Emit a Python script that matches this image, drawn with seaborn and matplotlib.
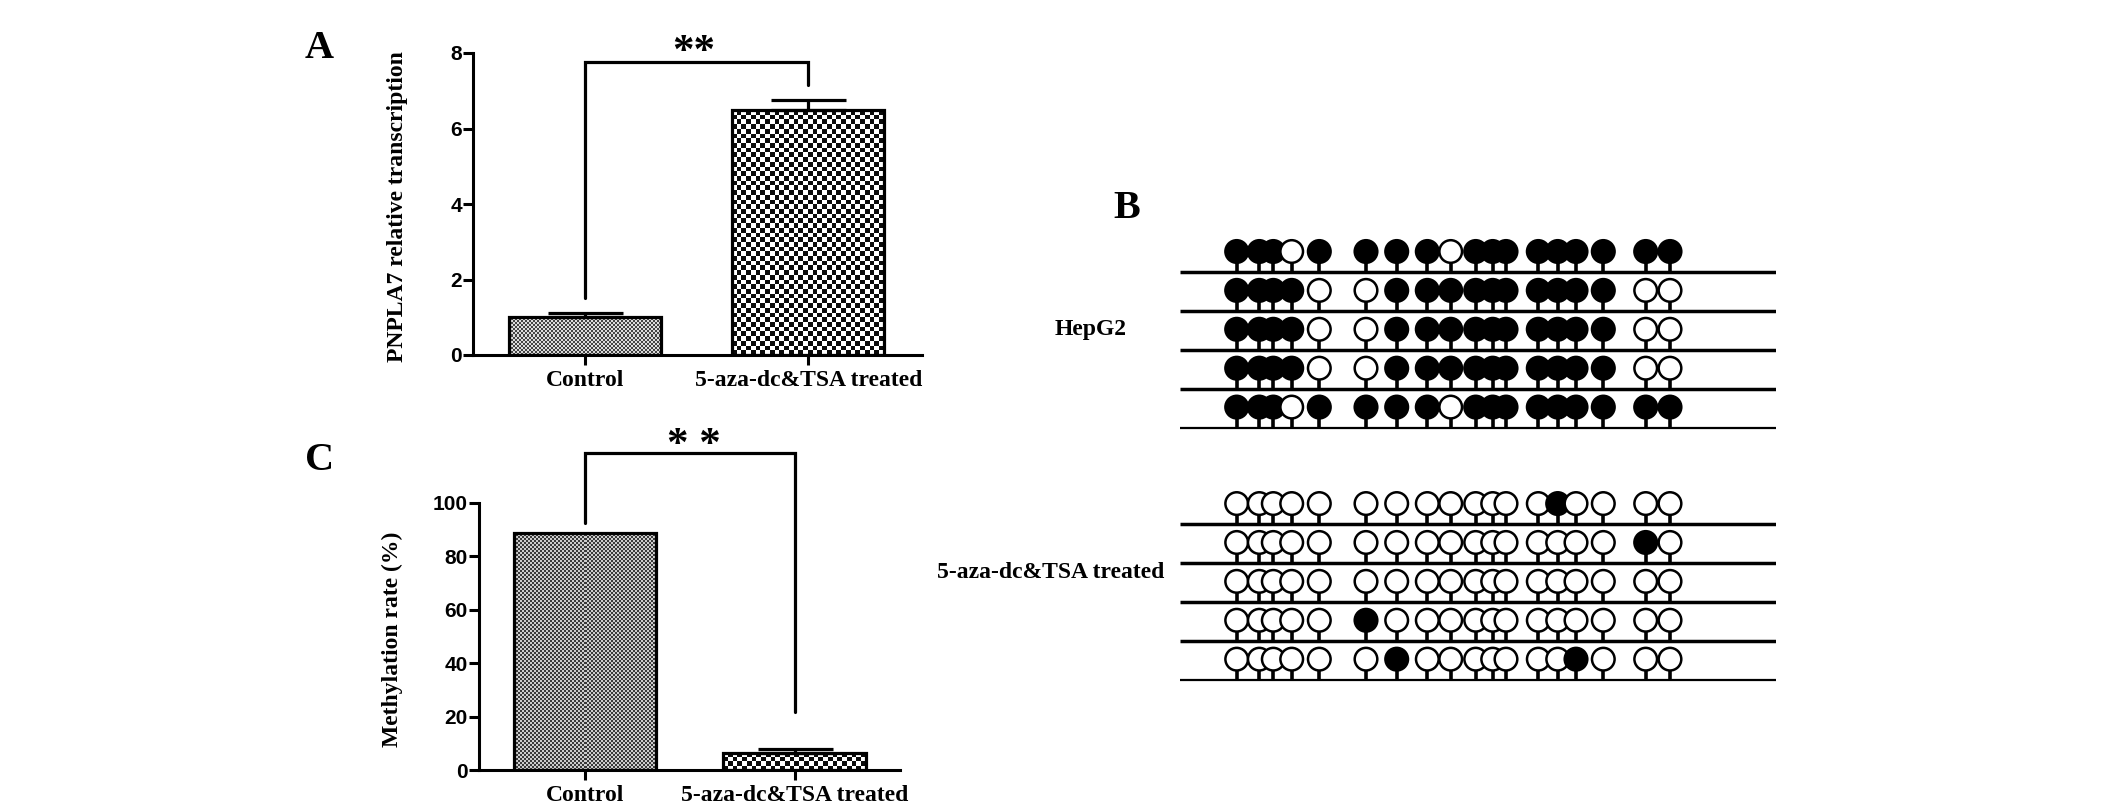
import numpy as np
import pandas as pd
import matplotlib
matplotlib.use("Agg")
import matplotlib.pyplot as plt
import seaborn as sns

# ---------------- data ----------------
groups = ["Control", "5-aza-dc&TSA treated"]
transcription = [1.01, 6.49]
transcription_err = [0.11, 0.26]
methylation = [88.8, 6.4]
methylation_err = [0.0, 1.4]

# significance brackets (left foot, top, right foot)
bracket_a = [1.51, 7.77, 7.15]
bracket_c = [92.5, 118.8, 21.8]

# CpG site positions along the sequenced region (relative units)
cpg_pos = [56.7, 79.3, 93.3, 111.7, 139.3, 186.0, 216.7, 247.3, 270.7,
           295.7, 312.7, 326.0, 358.3, 377.7, 396.0, 423.3, 465.7, 490.0]
region_len = 596
# 1 = methylated (filled), 0 = unmethylated (open)
hepg2_status = [
    [1, 1, 1, 0, 1, 1, 1, 1, 0, 1, 1, 1, 1, 1, 1, 1, 1, 1],
    [1, 1, 1, 1, 0, 0, 1, 1, 1, 1, 1, 1, 1, 1, 1, 1, 0, 0],
    [1, 1, 1, 1, 0, 0, 1, 1, 1, 1, 1, 1, 1, 1, 1, 1, 0, 0],
    [1, 1, 1, 1, 0, 0, 1, 1, 1, 1, 1, 1, 1, 1, 1, 1, 0, 0],
    [1, 1, 1, 0, 1, 1, 1, 1, 0, 1, 1, 1, 1, 1, 1, 1, 1, 1],
]
treated_status = [
    [0, 0, 0, 0, 0, 0, 0, 0, 0, 0, 0, 0, 0, 1, 0, 0, 0, 0],
    [0, 0, 0, 0, 0, 0, 0, 0, 0, 0, 0, 0, 0, 0, 0, 0, 1, 0],
    [0, 0, 0, 0, 0, 0, 0, 0, 0, 0, 0, 0, 0, 0, 0, 0, 0, 0],
    [0, 0, 0, 0, 0, 1, 0, 0, 0, 0, 0, 0, 0, 0, 0, 0, 0, 0],
    [0, 0, 0, 0, 0, 0, 1, 0, 0, 0, 0, 0, 0, 0, 1, 0, 0, 0],
]
clone_labels = ["HepG2", "5-aza-dc&TSA treated"]

# ---------------- style ----------------
sns.set_style("white")
plt.rcParams["font.family"] = ["Liberation Serif", "DejaVu Serif"]
plt.rcParams["text.color"] = "black"
plt.rcParams["axes.labelcolor"] = "black"
plt.rcParams["xtick.color"] = "black"
plt.rcParams["ytick.color"] = "black"
SERIF = "Liberation Serif"
SANS = "Liberation Sans"

W, H = 2126, 811
fig = plt.figure(figsize=(W / 100, H / 100), dpi=100)


def fx(px):
    return px / W


def fy(py):
    return 1 - py / H


def axes_px(x0, y0, x1, y1):
    return fig.add_axes([fx(x0), fy(y1), (x1 - x0) / W, (y1 - y0) / H])


def checker_fill(ax, patch, cell_px, c0, c1):
    x0, y0 = patch.get_x(), patch.get_y()
    x1, y1 = x0 + patch.get_width(), y0 + patch.get_height()
    p0 = ax.transData.transform((x0, y0))
    p1 = ax.transData.transform((x1, y1))
    wpx, hpx = abs(p1[0] - p0[0]), abs(p1[1] - p0[1])
    nx = max(1, int(round(wpx / cell_px)))
    ny = max(1, int(round(hpx / cell_px)))
    ii, jj = np.meshgrid(np.arange(nx), np.arange(ny))
    img = ((ii + jj) % 2).astype(float)
    cmap = matplotlib.colors.ListedColormap([c0, c1])
    im = ax.imshow(img, extent=[x0, x1, y0, y1], cmap=cmap,
                   interpolation="nearest", aspect="auto", origin="lower",
                   zorder=0.5, vmin=0, vmax=1)
    im.set_clip_path(patch)
    patch.set_facecolor("none")


def bar_panel(ax, values, errs, xlim, ylim, yticks, ylabel, label_x,
              bracket, star_xy, star_text, fills):
    df = pd.DataFrame({"group": groups, "value": values})
    sns.barplot(data=df, x="group", y="value", ax=ax, width=0.68,
                color="white", edgecolor="black", linewidth=2.3,
                errorbar=None, saturation=1)
    ax.set_xlim(*xlim)
    ax.set_ylim(*ylim)
    for patch, (cell, c0, c1) in zip(ax.patches, fills):
        patch.set_zorder(2)
        checker_fill(ax, patch, cell, c0, c1)
    ax.set_xlim(*xlim)
    ax.set_ylim(*ylim)
    for i, (v, e) in enumerate(zip(values, errs)):
        if e > 0:
            ax.errorbar([i], [v], yerr=[[0], [e]], fmt="none", ecolor="black",
                        elinewidth=2.3, capsize=27, capthick=2.3, zorder=3)
    ax.plot([0, 0, 1, 1], [bracket[0], bracket[1], bracket[1], bracket[2]],
            color="black", lw=2.3, clip_on=False, solid_joinstyle="miter",
            zorder=4)
    ax.text(star_xy[0], star_xy[1], star_text, ha="center", va="baseline",
            fontsize=31, fontweight="bold", family=SERIF, clip_on=False,
            color="black")
    sns.despine(ax=ax)
    for s in ("left", "bottom"):
        ax.spines[s].set_linewidth(2.2)
        ax.spines[s].set_color("black")
    ax.set_yticks(yticks)
    ax.set_yticklabels([str(t) for t in yticks])
    ax.tick_params(axis="y", direction="out", length=7, width=2.2, pad=1,
                   labelsize=15, colors="black", left=True)
    ax.tick_params(axis="x", direction="out", length=7, width=2.2, pad=4,
                   labelsize=17, colors="black", bottom=True)
    for t in ax.get_yticklabels():
        t.set_family(SANS)
        t.set_fontweight("bold")
    for t in ax.get_xticklabels():
        t.set_family(SERIF)
        t.set_fontweight("bold")
    ax.set_xlabel("")
    ax.set_ylabel(ylabel, fontsize=17, fontweight="bold", family=SERIF,
                  color="black")
    ax.yaxis.set_label_coords(label_x, 0.49)
    ax.set_facecolor("none")


# ---------------- panel A ----------------
axA = axes_px(473, 53, 922, 355)
bar_panel(axA, transcription, transcription_err, (-0.501, 1.508), (0, 8),
          [0, 2, 4, 6, 8], "PNPLA7 relative transcription", -0.145,
          bracket_a, (0.485, 7.74), "**",
          [(2.0, "#444444", "#dcdcdc"), (4.7, "#0a0a0a", "#ffffff")])

# ---------------- panel C ----------------
axC = axes_px(479, 503, 900, 770)
bar_panel(axC, methylation, methylation_err, (-0.505, 1.502), (0, 100),
          [0, 20, 40, 60, 80, 100], "Methylation rate (%)", -0.18,
          bracket_c, (0.52, 117.5), "* *",
          [(2.0, "#3a3a3a", "#cccccc"), (4.7, "#0a0a0a", "#ffffff")])

# ---------------- panel B ----------------
row_px = 38.9
axB = axes_px(1180, 225, 1180 + region_len, 705)

records = []
line_rows = []
for g, (status, offset) in enumerate([(hepg2_status, 0.0),
                                      (treated_status, 6.48)]):
    for r, row in enumerate(status):
        ly = offset + r
        line_rows.append((ly, r == len(status) - 1))
        for xpos, m in zip(cpg_pos, row):
            records.append({"x": xpos, "y": ly - 20.5 / row_px,
                            "stem": ly, "state": "M" if m else "U"})
cpg_df = pd.DataFrame(records)

for ly, last in line_rows:
    axB.hlines(ly, 0, region_len, color="black",
               lw=1.6 if last else 2.5, zorder=1)
axB.vlines(cpg_df["x"], cpg_df["stem"] - 10.0 / row_px, cpg_df["stem"],
           color="black", lw=2.6, zorder=2)
sns.scatterplot(data=cpg_df, x="x", y="y", hue="state",
                palette={"M": "black", "U": "white"}, edgecolor="black",
                linewidth=1.8, s=265, legend=False, ax=axB, zorder=3)
axB.set_xlim(0, region_len)
axB.set_ylim((705 - 272) / row_px, (225 - 272) / row_px)
axB.axis("off")

# ---------------- text labels ----------------
fig.text(fx(305), fy(58), "A", fontsize=29, fontweight="bold", family=SERIF,
         ha="left", va="baseline")
fig.text(fx(305), fy(470), "C", fontsize=29, fontweight="bold", family=SERIF,
         ha="left", va="baseline")
fig.text(fx(1113), fy(218), "B", fontsize=29, fontweight="bold", family=SERIF,
         ha="left", va="baseline")
fig.text(fx(1055), fy(330), clone_labels[0], fontsize=17, fontweight="bold",
         family=SERIF, ha="left", va="center")
fig.text(fx(937), fy(573), clone_labels[1], fontsize=17, fontweight="bold",
         family=SERIF, ha="left", va="center")

fig.savefig("out.png", dpi=100, facecolor="white")
